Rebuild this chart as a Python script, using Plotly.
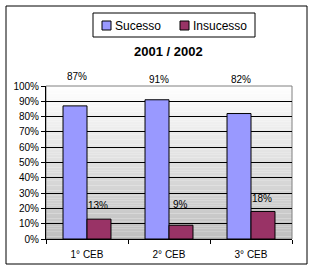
import plotly.graph_objects as go

categories = ["1° CEB", "2° CEB", "3° CEB"]
sucesso = [87, 91, 82]
insucesso = [13, 9, 18]
tick_vals = [0, 10, 20, 30, 40, 50, 60, 70, 80, 90, 100]
tick_text = [f"{v}%" for v in tick_vals]
title_text = "2001 / 2002"
series_names = ["Sucesso", "Insucesso"]
series_colors = ["#9999FF", "#993366"]

# label pixel offsets (label centre above the bar top) as seen in the reference
suc_label_shift = [29, 20, 34]
ins_label_shift = [14, 21, 13]

FONT = "Liberation Sans, Arial, sans-serif"
L, R, T, B = 46, 23, 86, 32
W, H = 315, 271
PW, PH = W - L - R, H - T - B


def px(x):
    return (x - L) / PW


def py(y):
    return (H - B - y) / PH


fig = go.Figure()
for name, vals, col in zip(series_names, [sucesso, insucesso], series_colors):
    fig.add_trace(go.Bar(name=name, x=categories, y=vals, showlegend=False,
                         marker=dict(color=col, line=dict(color="black", width=1))))

shapes = []
n = 60
for i in range(n):
    t = (i + 0.5) / n  # 0 bottom -> 1 top
    c = int(192 + (255 - 192) * t)
    shapes.append(dict(type="rect", xref="x domain", yref="y domain",
                       x0=0, x1=1, y0=i / n, y1=(i + 1) / n,
                       fillcolor=f"rgb({c},{c},{c})", line=dict(width=0), layer="below"))
# plot area border (grey top/right)
shapes.append(dict(type="rect", xref="paper", yref="paper", x0=0, x1=1, y0=0, y1=1,
                   line=dict(color="#808080", width=1), layer="below"))
# outer chart border
shapes.append(dict(type="rect", xref="paper", yref="paper",
                   x0=px(6), x1=px(307), y0=py(264), y1=py(6),
                   line=dict(color="black", width=1)))

annotations = []
# hand-drawn legend (box, swatches, text)
shapes.append(dict(type="rect", xref="paper", yref="paper",
                   x0=px(93), x1=px(255), y0=py(37), y1=py(13),
                   line=dict(color="black", width=1), fillcolor="white"))
for name, col, sx in zip(series_names, series_colors, [102, 180]):
    shapes.append(dict(type="rect", xref="paper", yref="paper",
                       x0=px(sx), x1=px(sx + 9), y0=py(30), y1=py(21),
                       line=dict(color="black", width=1), fillcolor=col))
    annotations.append(dict(x=px(sx + 11), y=py(25.5), xref="paper", yref="paper",
                            text=name, showarrow=False, xanchor="left", yanchor="middle",
                            font=dict(family=FONT, size=12, color="black")))

for cat, v, s in zip(categories, sucesso, suc_label_shift):
    annotations.append(dict(x=cat, y=v, text=f"{v}%", showarrow=False, xshift=-10,
                            yshift=s, yanchor="middle",
                            font=dict(family=FONT, size=10, color="black")))
for cat, v, s in zip(categories, insucesso, ins_label_shift):
    annotations.append(dict(x=cat, y=v, text=f"{v}%", showarrow=False, xshift=11,
                            yshift=s, yanchor="middle",
                            font=dict(family=FONT, size=10, color="black")))
annotations.append(dict(x=px(168), y=py(52), xref="paper", yref="paper",
                        text=f"<b>{title_text}</b>", showarrow=False, yanchor="middle",
                        font=dict(family=FONT, size=13, color="black")))

fig.update_layout(
    width=W, height=H,
    margin=dict(l=L, r=R, t=T, b=B),
    paper_bgcolor="white", plot_bgcolor="white",
    barmode="group", bargap=0.415, bargroupgap=0,
    font=dict(family=FONT, size=10, color="black"),
    showlegend=False,
    shapes=shapes, annotations=annotations,
)
fig.update_xaxes(showline=True, linecolor="black", linewidth=1, ticks="outside",
                 tickson="boundaries", ticklen=4, tickcolor="black",
                 showgrid=False, ticklabelstandoff=6, tickfont=dict(family=FONT, size=10))
fig.update_yaxes(range=[0, 100], tickvals=tick_vals, ticktext=tick_text,
                 showline=True, linecolor="black", linewidth=1, ticks="outside",
                 ticklen=4, tickcolor="black", showgrid=True, gridcolor="black",
                 gridwidth=1, zeroline=False, tickfont=dict(family=FONT, size=10))

fig.write_html("out.html")
